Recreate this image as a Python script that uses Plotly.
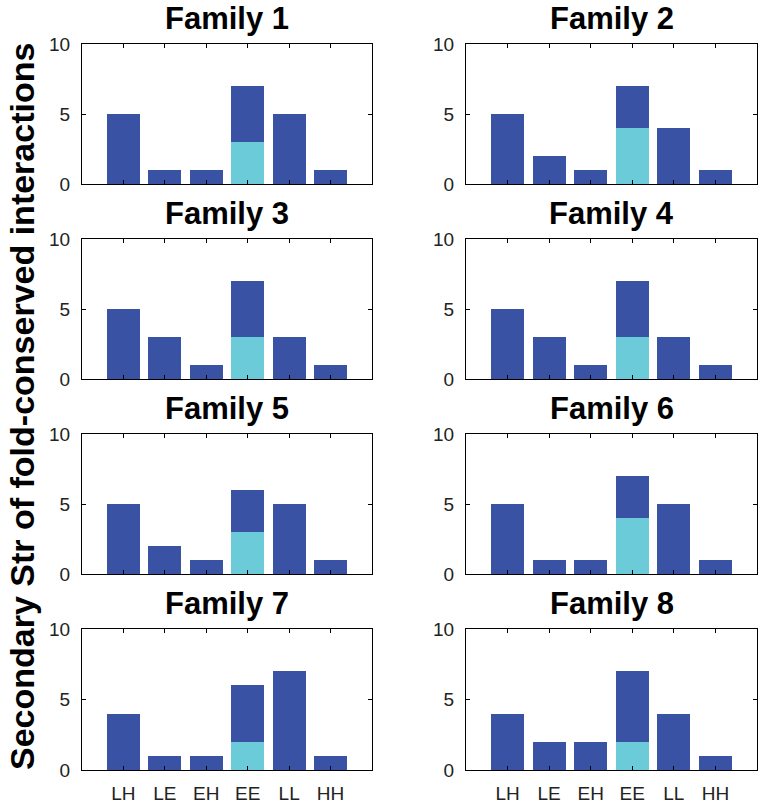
import plotly.graph_objects as go

categories = ["LH", "LE", "EH", "EE", "LL", "HH"]
families = ["Family 1", "Family 2", "Family 3", "Family 4",
            "Family 5", "Family 6", "Family 7", "Family 8"]
# total bar heights per family (EE total includes the light part)
fam1 = [5, 1, 1, 7, 5, 1]
fam2 = [5, 2, 1, 7, 4, 1]
fam3 = [5, 3, 1, 7, 3, 1]
fam4 = [5, 3, 1, 7, 3, 1]
fam5 = [5, 2, 1, 6, 5, 1]
fam6 = [5, 1, 1, 7, 5, 1]
fam7 = [4, 1, 1, 6, 7, 1]
fam8 = [4, 2, 2, 7, 4, 1]
totals = [fam1, fam2, fam3, fam4, fam5, fam6, fam7, fam8]
# light (lower) part of the EE bar
ee_light = [3, 4, 3, 3, 3, 4, 2, 2]
y_ticks = [0, 5, 10]

DARK = "#3a52a3"
LIGHT = "#6ccbd9"
W, H = 765, 807

col_px = [(82, 372), (466, 757)]
row_px = [(44, 184), (239, 379), (434, 574), (629, 770)]

fig = go.Figure()
xpos = list(range(1, len(categories) + 1))
ee_idx = categories.index("EE")

for i, (name, tot) in enumerate(zip(families, totals)):
    r, c = divmod(i, 2)
    n = i + 1
    xa = "x" if n == 1 else f"x{n}"
    ya = "y" if n == 1 else f"y{n}"
    light = [0] * len(categories)
    light[ee_idx] = ee_light[i]
    dark = [t - l for t, l in zip(tot, light)]
    fig.add_trace(go.Bar(x=xpos, y=light, width=0.8, marker=dict(color=LIGHT, line=dict(width=0)),
                         xaxis=xa, yaxis=ya, showlegend=False))
    fig.add_trace(go.Bar(x=xpos, y=dark, width=0.8, marker=dict(color=DARK, line=dict(width=0)),
                         xaxis=xa, yaxis=ya, showlegend=False))
    x0, x1 = col_px[c]
    y0, y1 = row_px[r]
    common = dict(showline=True, linecolor="black", linewidth=1.3, mirror="ticks",
                  ticks="inside", ticklen=4, tickcolor="black", tickwidth=1,
                  showgrid=False, zeroline=False, fixedrange=True, automargin=False,
                  tickfont=dict(family="Liberation Sans", size=19, color="#222"))
    fig.layout[f"xaxis{n if n > 1 else ''}"] = dict(
        domain=[x0 / W, x1 / W], anchor=ya, range=[0, 7],
        tickvals=xpos, ticktext=categories, showticklabels=(r == 3),
        ticklabelstandoff=6, **common)
    fig.layout[f"yaxis{n if n > 1 else ''}"] = dict(
        domain=[1 - y1 / H, 1 - y0 / H], anchor=xa, range=[0, 10],
        tickvals=y_ticks, ticklabelstandoff=7, **common)
    fig.add_annotation(text=f"<b>{name}</b>", x=(x0 + x1) / 2 / W, y=1 - (y0 - 6) / H,
                       xref="paper", yref="paper", xanchor="center", yanchor="bottom",
                       showarrow=False, font=dict(family="Liberation Sans", size=31, color="black"))

fig.add_annotation(text="<b>Secondary Str of fold-conserved interactions</b>",
                   x=22 / W, y=1 - 407 / H, xref="paper", yref="paper",
                   xanchor="center", yanchor="middle", textangle=-90, showarrow=False,
                   font=dict(family="Liberation Sans", size=34, color="black"))

fig.update_layout(width=W, height=H, margin=dict(l=0, r=0, t=0, b=0),
                  barmode="stack", bargap=0, plot_bgcolor="white", paper_bgcolor="white")

fig.write_html("out.html", config={"displayModeBar": False},
               post_script="document.body.style.margin='0';")
